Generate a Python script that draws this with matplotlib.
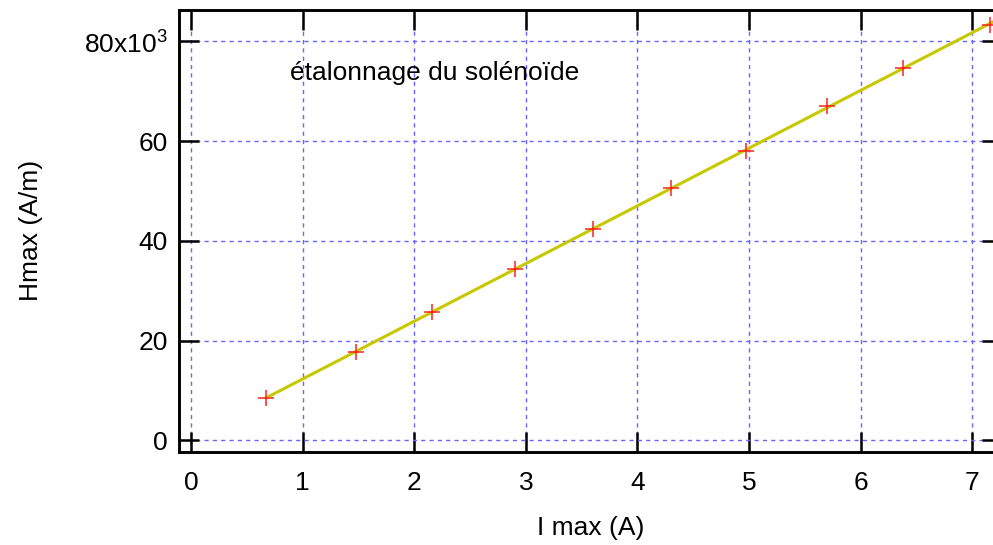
import numpy as np
import matplotlib
matplotlib.use('Agg')
import matplotlib.pyplot as plt
from matplotlib.ticker import FixedLocator, FuncFormatter

plt.rcParams['font.family'] = ['Liberation Sans', 'DejaVu Sans']
plt.rcParams['mathtext.fontset'] = 'custom'
plt.rcParams['mathtext.rm'] = 'Liberation Sans'

# measured points
i_max = [0.672, 1.478, 2.16, 2.90, 3.60, 4.30, 4.97, 5.70, 6.38, 7.16]
h_max = [8500, 17700, 25700, 34300, 42400, 50600, 58000, 67000, 74700, 83300]

x_ticks = [0, 1, 2, 3, 4, 5, 6, 7]
y_ticks = [0, 20000, 40000, 60000, 80000]
title_text = 'étalonnage du solénoïde'

# linear fit
slope, intercept = np.polyfit(i_max, h_max, 1)
x_fit = np.array([i_max[0], 7.4])
y_fit = slope * x_fit + intercept

fig = plt.figure(figsize=(9.93, 5.45), dpi=100)
ax = fig.add_axes([0.1803, 0.1712, 1.0088 - 0.1803, 0.9817 - 0.1712])

ax.plot(x_fit, y_fit, color='#c8c800', linewidth=2.2, zorder=3)
ax.plot(i_max, h_max, linestyle='none', marker='+', color='#ff2020',
        markersize=12, markeredgewidth=1.1, zorder=4, clip_on=False)

ax.set_xlim(-0.107, 7.264)
ax.set_ylim(-2290, 86280)

ax.xaxis.set_major_locator(FixedLocator(x_ticks))
ax.yaxis.set_major_locator(FixedLocator(y_ticks))


def yfmt(v, pos):
    if v == 80000:
        return '80x10$^{\\mathregular{3}}$'
    return '%d' % (v / 1000)


ax.yaxis.set_major_formatter(FuncFormatter(yfmt))

ax.grid(True, color='#6666ff', linestyle=(0, (3, 3)), linewidth=1.0)
ax.tick_params(direction='in', length=14.4, width=1.8, top=True, right=True,
               labelsize=19, color='black')
ax.tick_params(axis='x', pad=14)
ax.tick_params(axis='y', pad=8)
for s in ax.spines.values():
    s.set_linewidth(2.1)

ax.text(0.887, 73650, title_text, fontsize=19, va='center', ha='left')

ax.set_xlabel('I max (A)', fontsize=19, labelpad=15)
ax.set_ylabel('Hmax (A/m)', fontsize=19, labelpad=30)

fig.savefig('out.png', dpi=100)
